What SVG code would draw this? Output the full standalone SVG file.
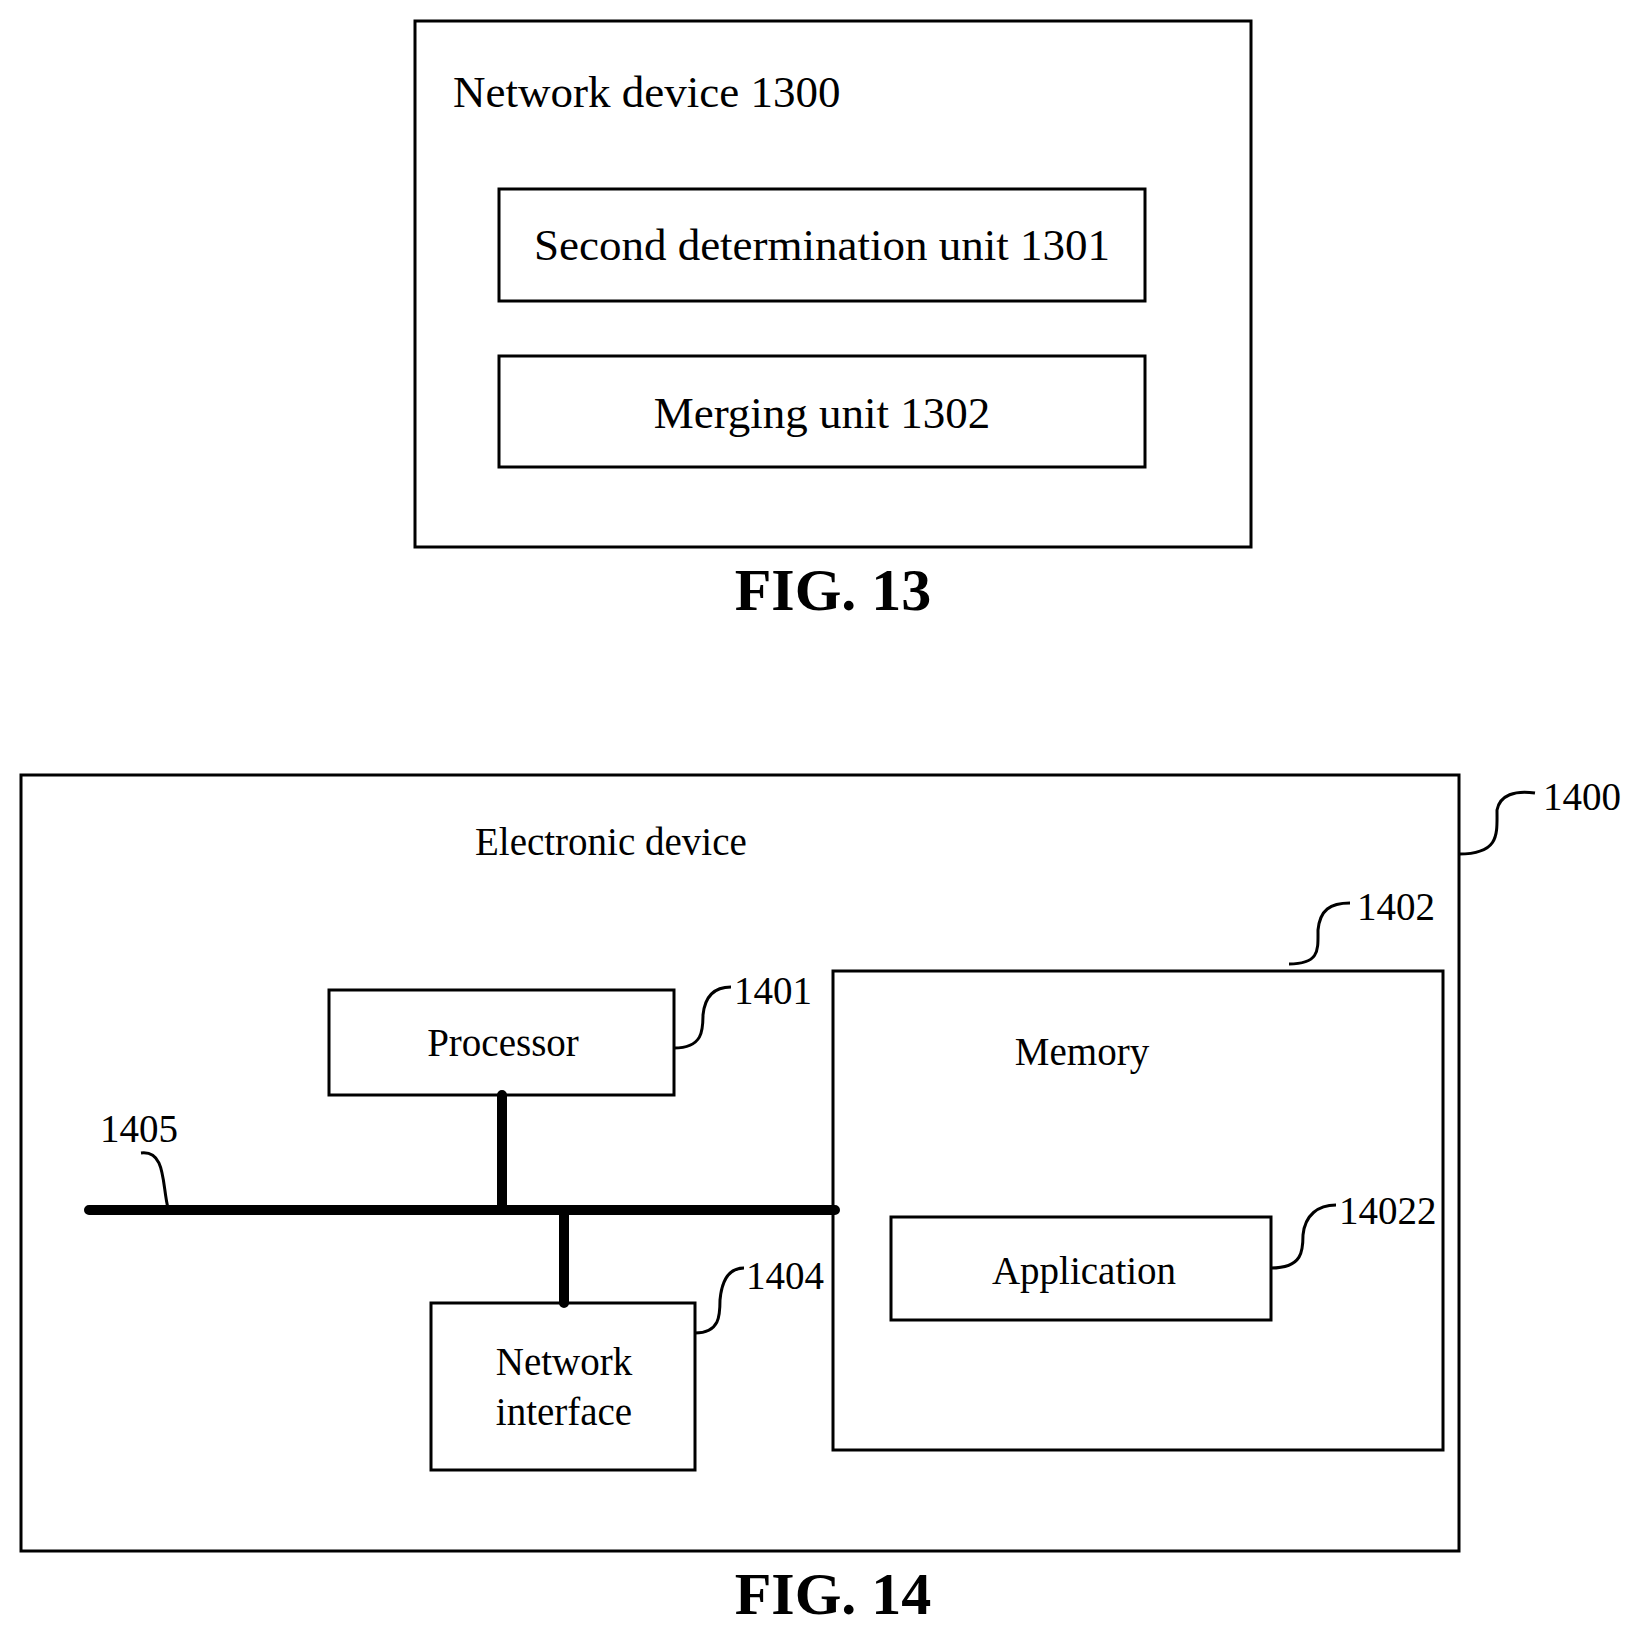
<svg xmlns="http://www.w3.org/2000/svg" width="1642" height="1634" viewBox="0 0 1642 1634">
<style>
.b{fill:none;stroke:#000;stroke-width:3}
.l{fill:none;stroke:#000;stroke-width:3}
text{font-family:"Liberation Serif",serif;fill:#000}
.t1{font-size:45px}
.t2{font-size:39px}
.f{font-size:60px;font-weight:bold;text-anchor:middle}
.c{text-anchor:middle}
</style>
<rect width="1642" height="1634" fill="#fff"/>
<g id="device1300"><rect class="b" x="415" y="21" width="836" height="526"/><text class="t1" x="453" y="107">Network device 1300</text></g>
<g id="unit1301"><rect class="b" x="499" y="189" width="646" height="112"/><text class="t1 c" x="822" y="260">Second determination unit 1301</text></g>
<g id="unit1302"><rect class="b" x="499" y="356" width="646" height="111"/><text class="t1 c" x="822" y="428">Merging unit 1302</text></g>
<text class="f" x="833" y="610">FIG. 13</text>
<g id="device1400"><rect class="b" x="21" y="775" width="1438" height="776"/><text class="t2" x="475" y="855">Electronic device</text><text class="t2" x="1543" y="810">1400</text></g>
<g id="memory1402"><rect class="b" x="833" y="971" width="610" height="479"/><text class="t2 c" x="1082" y="1065">Memory</text><text class="t2" x="1357" y="920">1402</text></g>
<g id="app14022"><rect class="b" x="891" y="1217" width="380" height="103"/><text class="t2 c" x="1084" y="1284">Application</text><text class="t2" x="1339" y="1224">14022</text></g>
<g id="proc1401"><rect class="b" x="329" y="990" width="345" height="105"/><text class="t2 c" x="503" y="1056">Processor</text><text class="t2" x="734" y="1004">1401</text></g>
<g id="ni1404"><rect class="b" x="431" y="1303" width="264" height="167"/><text class="t2 c" x="564" y="1375">Network</text><text class="t2 c" x="564" y="1425">interface</text><text class="t2" x="746" y="1289">1404</text></g>
<text class="t2" x="100" y="1142">1405</text>
<g id="connectors">
<path d="M89 1210H835M502 1095V1210M564 1210V1303" stroke="#000" stroke-width="10" stroke-linecap="round" fill="none"/>
<path class="l" d="M1459 854C1500 854 1497 834 1497 810C1500 795 1515 790 1535 793"/>
<path class="l" d="M1289 964C1320 964 1318 950 1318 930C1320 910 1330 903 1350 903"/>
<path class="l" d="M1271 1268C1303 1268 1303 1250 1303 1235C1305 1215 1318 1205 1336 1205"/>
<path class="l" d="M674 1048C703 1048 703 1030 703 1015C705 995 715 987 731 987"/>
<path class="l" d="M695 1333C720 1333 720 1315 720 1300C722 1278 730 1268 744 1268"/>
<path class="l" d="M168 1208C162 1185 166 1150 141 1153"/>
</g>
<text class="f" x="833" y="1614">FIG. 14</text>
</svg>
